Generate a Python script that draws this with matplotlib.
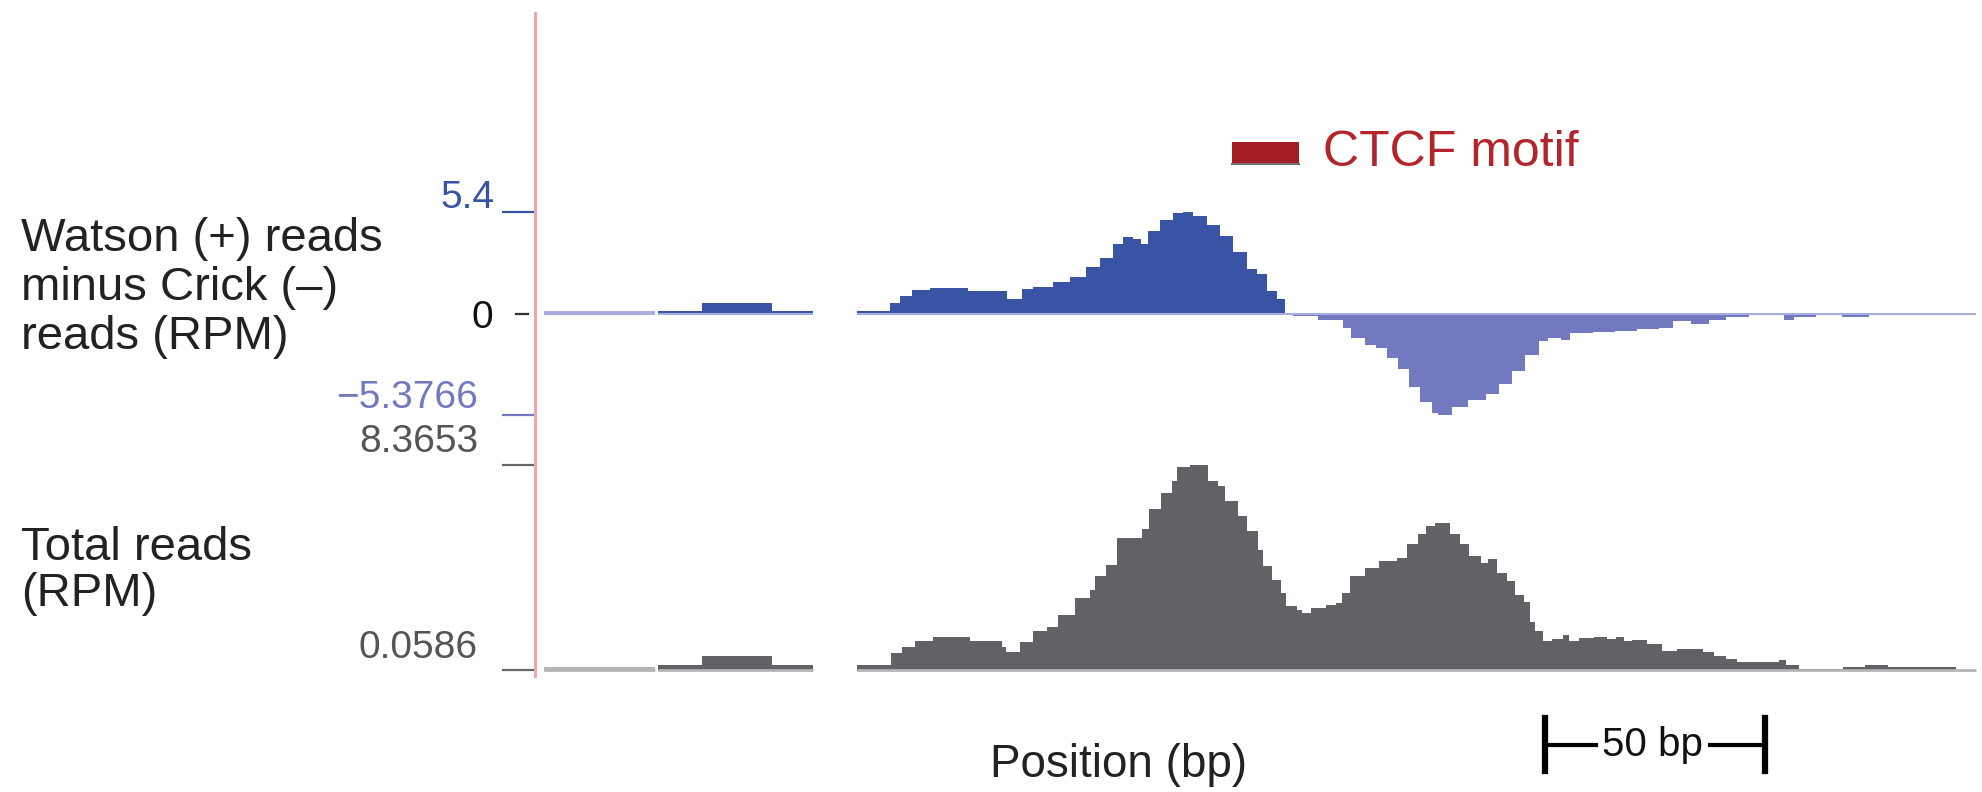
# -*- coding: UTF-8 -*-
import numpy as np
import matplotlib
matplotlib.use('Agg')
from matplotlib import pyplot as plt
from matplotlib.lines import Line2D
from matplotlib.patches import Rectangle
from matplotlib.transforms import blended_transform_factory

# 字体：Helvetica 风格
plt.rcParams['font.family'] = ['Liberation Sans', 'DejaVu Sans']

# ---------------- 数据 ----------------
# 坐标单位：bp
# Watson 减 Crick（RPM）
diff_max = 5.4
diff_min = -5.3766
# 总 reads（RPM）
total_max = 8.3653
total_min = 0.0586

# 左侧低覆盖段（浅色）
seg1_pos = [0.0, 25.3]
seg1_diff = 0.12
seg1_total = 0.2

# 第二段（有一个小台阶）
seg2_pos = [26.0, 35.9, 51.8, 61.1]
seg2_diff = [0.15, 0.55, 0.15, 0.15]
seg2_total = [0.28, 0.62, 0.28, 0.28]

# 主区域：Watson - Crick，阶梯数据
diff_pos = [71.1, 78.6, 80.9, 83.6, 87.7, 96.4, 105.2, 108.6, 111.2, 115.8,
            119.5, 123.3, 126.4, 129.4, 131.7, 133.9, 135.8, 137.3, 140.0, 143.0,
            145.3, 147.6, 150.6, 153.6, 156.7, 159.7, 162.0, 164.3, 166.5, 168.4,
            170.3, 176.0, 181.5, 183.5, 186.5, 189.1, 191.6, 194.2, 196.7, 199.2,
            201.8, 203.3, 206.3, 209.9, 214.0, 217.0, 220.0, 223.0, 226.1, 228.2,
            231.2, 233.2, 238.3, 243.4, 248.4, 253.5, 256.6, 260.6, 264.7, 268.7,
            273.8, 281.9, 284.0, 289.0, 295.1, 301.2, 320.5, 325.5]
diff_val = [0.15, 0.59, 0.95, 1.27, 1.39, 1.20, 0.80, 1.30, 1.44, 1.66,
            1.93, 2.46, 2.94, 3.70, 4.10, 3.96, 3.70, 4.40, 4.97, 5.36,
            5.40, 5.20, 4.70, 4.15, 3.26, 2.37, 2.10, 1.20, 0.77, -0.05,
            -0.12, -0.35, -0.78, -1.30, -1.65, -1.82, -2.34, -2.95, -3.90, -4.68,
            -5.29, -5.3766, -4.94, -4.60, -4.25, -3.73, -3.03, -2.17, -1.47, -1.27,
            -1.39, -1.04, -0.95, -0.90, -0.81, -0.75, -0.40, -0.57, -0.31, -0.17,
            -0.09, -0.35, -0.17, -0.05, -0.17, -0.05, 0.05, 0.05]

# 主区域：总 reads
total_pos = [71.1, 79.0, 81.5, 84.3, 88.4, 96.9, 104.2, 105.0, 108.3, 111.1,
             114.3, 116.8, 120.8, 124.1, 125.3, 127.7, 130.2, 135.9, 137.5, 140.3,
             142.7, 144.0, 146.8, 150.9, 153.3, 154.9, 157.8, 159.8, 162.3, 163.5,
             165.5, 167.5, 168.7, 171.1, 172.4, 174.4, 177.7, 180.1, 181.3, 183.3,
             186.6, 189.8, 193.9, 196.1, 198.7, 200.4, 202.6, 206.0, 208.1, 210.3,
             212.9, 214.6, 216.7, 218.9, 220.6, 222.7, 224.0, 225.3, 227.0, 229.2,
             231.7, 233.0, 235.2, 238.6, 241.6, 243.7, 245.5, 247.2, 250.6, 254.0,
             257.5, 263.5, 266.0, 268.6, 271.2, 280.6, 282.3, 285.3, 295.2, 300.3,
             305.5, 320.9, 325.5]
total_val = [0.25, 0.74, 1.00, 1.25, 1.39, 1.25, 1.00, 0.80, 1.21, 1.62,
             1.82, 2.30, 2.98, 3.32, 3.86, 4.33, 5.42, 5.76, 6.57, 7.25,
             7.73, 8.27, 8.3653, 7.73, 7.52, 6.91, 6.30, 5.69, 4.94, 4.27,
             3.72, 3.18, 2.64, 2.50, 2.37, 2.57, 2.70, 2.77, 3.18, 3.86,
             4.20, 4.47, 4.60, 5.16, 5.57, 5.91, 6.00, 5.57, 5.16, 4.68,
             4.40, 4.54, 3.99, 3.65, 3.10, 2.83, 2.01, 1.66, 1.25, 1.32,
             1.48, 1.25, 1.35, 1.39, 1.32, 1.39, 1.25, 1.29, 1.11, 0.84,
             0.91, 0.77, 0.61, 0.52, 0.39, 0.47, 0.25, 0.09, 0.18, 0.25,
             0.18, 0.06, 0.06]

# CTCF motif 位置
motif_start = 156.4
motif_end = 171.6
# 比例尺
scale_start = 227.5
scale_len = 50

# ---------------- 颜色 ----------------
blue = '#3953a5'
purple = '#7279bf'
light_blue = '#a7aedf'
gray = '#616265'
light_gray = '#b5b5b7'
red_line = '#f4a3a6'
motif_red = '#a41d22'

fig = plt.figure(figsize=(19.82, 7.92), dpi=100)
ax1 = fig.add_axes([0.2699, 0.4760, 0.7281, 0.2563])
ax2 = fig.add_axes([0.2699, 0.1540, 0.7281, 0.2589])
for ax in (ax1, ax2):
    ax.set_xlim(-2.0, 325.9)
    ax.axis('off')
ax1.set_ylim(diff_min, diff_max)
ax2.set_ylim(total_min, total_max)

# 零线 / 基线
for s, e in [(seg1_pos[0], seg1_pos[-1]), (seg2_pos[0], seg2_pos[-1]), (diff_pos[0], diff_pos[-1])]:
    ax1.plot([s, e], [0, 0], color=light_blue, lw=1.5, solid_capstyle='butt')
    ax2.plot([s, e], [total_min, total_min], color=light_gray, lw=2, solid_capstyle='butt', clip_on=False)

# 第一段（浅色）
ax1.fill_between(seg1_pos, 0, seg1_diff, color=light_blue, lw=0)
ax2.fill_between(seg1_pos, 0, seg1_total, color=light_gray, lw=0)

# 第二段
ax1.fill_between(seg2_pos, 0, seg2_diff, step='post', color=blue, lw=0)
ax2.fill_between(seg2_pos, 0, seg2_total, step='post', color=gray, lw=0)

# 主区域
pos = np.array(diff_pos)
val = np.array(diff_val)
ax1.fill_between(pos, 0, np.clip(val, 0, None), step='post', color=blue, lw=0)
ax1.fill_between(pos, 0, np.clip(val, None, 0), step='post', color=purple, lw=0)
ax2.fill_between(total_pos, 0, total_val, step='post', color=gray, lw=0)

# 左侧红色竖线
fig.add_artist(Line2D([0.2699, 0.2699], [0.1465, 0.9836], color=red_line, lw=2.2))


# 刻度
def ytick(ax, y, label, color, tcolor=None, x0=-0.0222, x1=-0.0014, tx=-0.0395, dy=0.0):
    tr = blended_transform_factory(ax.transAxes, ax.transData)
    ax.plot([x0, x1], [y, y], color=color, lw=1.6, transform=tr, clip_on=False)
    ax.annotate(label, xy=(tx, y), xycoords=tr, xytext=(0, dy), textcoords='offset points',
                ha='right', va='baseline', color=tcolor or color, fontsize=28)


ytick(ax1, diff_max, '5.4', blue, tx=-0.0277, dy=3)
ytick(ax1, 0, '0', '#333333', tcolor='#111111', x0=-0.0132, x1=-0.0049, tx=-0.0291, dy=-10)
ytick(ax1, diff_min, '\u22125.3766', purple, dy=5)
ytick(ax2, total_max, '8.3653', '#666666', tcolor='#555555', dy=9)
ytick(ax2, total_min, '0.0586', '#666666', tcolor='#555555', dy=9)

# 左侧标题
fig.text(0.0106, 0.6364, 'Watson (+) reads\nminus Crick (\u2013)\nreads (RPM)',
         ha='left', va='center', fontsize=34, color='#222222', linespacing=1.14)
fig.text(0.0106, 0.279, 'Total reads\n(RPM)', ha='left', va='center', fontsize=34,
         color='#222222', linespacing=1.08)

# CTCF motif 图例
tr1 = blended_transform_factory(ax1.transData, ax1.transAxes)
ax1.add_patch(Rectangle((motif_start, 1.236), motif_end - motif_start, 0.109,
                        transform=tr1, color=motif_red, clip_on=False, lw=0))
ax1.plot([motif_start, motif_end], [1.236, 1.236], color='#6e6e6e', lw=1.5,
         transform=tr1, clip_on=False)
ax1.text(177.0, 1.29, 'CTCF motif', transform=tr1, ha='left', va='center',
         fontsize=36, color='#b3252b')

# 比例尺 50 bp
tr2 = blended_transform_factory(ax2.transData, ax2.transAxes)
scale_end = scale_start + scale_len
mid = scale_start + scale_len / 2
for x in (scale_start, scale_end):
    ax2.plot([x, x], [-0.234, -0.493], color='black', lw=4.5, transform=tr2, clip_on=False)
ax2.plot([scale_start, mid - 13.5], [-0.366, -0.366], color='black', lw=3, transform=tr2, clip_on=False)
ax2.plot([mid + 12.5, scale_end], [-0.366, -0.366], color='black', lw=3, transform=tr2, clip_on=False)
ax2.text(mid - 0.5, -0.366, '50 bp', transform=tr2, ha='center', va='center', fontsize=29, color='#111111')

# x 轴标题
fig.text(0.5646, 0.034, 'Position (bp)', ha='center', va='center', fontsize=33, color='#222222')

plt.savefig('out.png', dpi=100)
plt.close()
